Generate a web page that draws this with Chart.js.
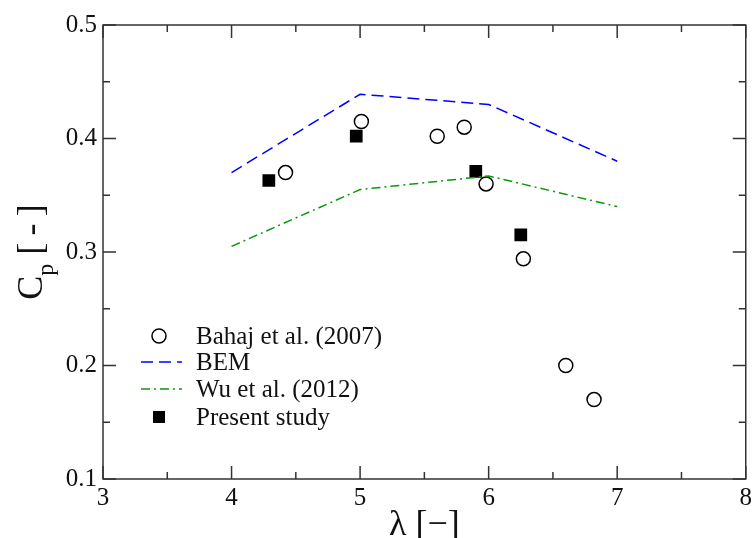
<!DOCTYPE html>
<html>
<head>
<meta charset="utf-8">
<script src="https://cdn.jsdelivr.net/npm/chart.js@4.4.1/dist/chart.umd.min.js"></script>
<style>
  body { margin: 0; background: #fff; }
  canvas { display: block; }
</style>
</head>
<body>
<canvas id="grafico-cp" width="756" height="538"></canvas>
<script>
// dados
const bahajLambda = [4.42, 5.01, 5.60, 5.81, 5.98, 6.27, 6.60, 6.82];
const bahajCp = [0.370, 0.415, 0.402, 0.410, 0.360, 0.294, 0.200, 0.170];

const bemLambda = [4, 5, 6, 7];
const bemCp = [0.370, 0.439, 0.430, 0.380];

const wuLambda = [4, 5, 6, 7];
const wuCp = [0.305, 0.355, 0.367, 0.340];

const presentLambda = [4.29, 4.97, 5.90, 6.25];
const presentCp = [0.363, 0.402, 0.371, 0.315];

const xTicks = [3, 4, 5, 6, 7, 8];
const yTicks = [0.1, 0.2, 0.3, 0.4, 0.5];

const legendLabels = ['Bahaj et al. (2007)', 'BEM', 'Wu et al. (2012)', 'Present study'];

const SERIF = '"Liberation Serif", "Times New Roman", serif';
const AXIS_COLOR = '#333';

function pares(xs, ys) {
    return xs.map((x, i) => ({ x: x, y: ys[i] }));
}

/* =========================
   MOLDURA + MARCAS PARA DENTRO
========================== */
const molduraPlugin = {
    id: 'moldura',
    beforeDatasetsDraw(chart) {
        const { ctx, chartArea: a, scales: { x, y } } = chart;
        ctx.save();
        ctx.strokeStyle = AXIS_COLOR;
        ctx.lineWidth = 1.5;
        ctx.strokeRect(a.left, a.top, a.right - a.left, a.bottom - a.top);

        ctx.beginPath();
        for (let v = xTicks[0]; v <= xTicks[xTicks.length - 1] + 1e-9; v += 0.5) {
            const px = x.getPixelForValue(v);
            const len = Math.abs(v - Math.round(v)) < 1e-6 ? 13 : 7;
            ctx.moveTo(px, a.bottom); ctx.lineTo(px, a.bottom - len);
            ctx.moveTo(px, a.top); ctx.lineTo(px, a.top + len);
        }
        for (let v = yTicks[0]; v <= yTicks[yTicks.length - 1] + 1e-9; v += 0.05) {
            const py = y.getPixelForValue(v);
            const major = Math.abs(v * 10 - Math.round(v * 10)) < 1e-6;
            const len = major ? 13 : 7;
            ctx.moveTo(a.left, py); ctx.lineTo(a.left + len, py);
            ctx.moveTo(a.right, py); ctx.lineTo(a.right - len, py);
        }
        ctx.stroke();
        ctx.restore();
    }
};

/* =========================
   TÍTULOS DOS EIXOS (com subscrito)
========================== */
const titulosPlugin = {
    id: 'titulos',
    afterDraw(chart) {
        const { ctx, chartArea: a } = chart;
        ctx.save();
        ctx.fillStyle = '#111';
        ctx.textBaseline = 'alphabetic';

        // eixo y: C_p [-]
        const big = '36px ' + SERIF;
        const small = '24px ' + SERIF;
        const resto = ' [\u2009-\u2009]';
        ctx.font = big;
        const wC = ctx.measureText('C').width;
        const wRest = ctx.measureText(resto).width;
        ctx.font = small;
        const wP = ctx.measureText('p').width;
        const total = wC + wP + wRest;

        ctx.translate(42, (a.top + a.bottom) / 2);
        ctx.rotate(-Math.PI / 2);
        let cx = -total / 2;
        ctx.font = big;
        ctx.fillText('C', cx, 0);
        cx += wC;
        ctx.font = small;
        ctx.fillText('p', cx, 11);
        cx += wP;
        ctx.font = big;
        ctx.fillText(resto, cx, 0);
        ctx.restore();

        // eixo x: λ [−]
        ctx.save();
        ctx.fillStyle = '#111';
        ctx.font = big;
        ctx.textAlign = 'center';
        ctx.textBaseline = 'alphabetic';
        ctx.fillText('\u03bb [\u2212]', (a.left + a.right) / 2, 535);
        ctx.restore();
    }
};

/* =========================
   LEGENDA DENTRO DO GRÁFICO
========================== */
const legendaPlugin = {
    id: 'legenda',
    afterDatasetsDraw(chart) {
        const { ctx, chartArea: a } = chart;
        const symX = a.left + 56;
        const textX = a.left + 93;
        const rowY = [336, 362, 389, 417];
        ctx.save();
        ctx.font = '25px ' + SERIF;
        ctx.fillStyle = '#111';
        ctx.textBaseline = 'middle';

        // círculo
        ctx.beginPath();
        ctx.arc(symX, rowY[0], 7, 0, Math.PI * 2);
        ctx.fillStyle = '#fff';
        ctx.fill();
        ctx.lineWidth = 1.5;
        ctx.strokeStyle = '#000';
        ctx.stroke();

        // linha tracejada azul
        ctx.beginPath();
        ctx.setLineDash([12, 6]);
        ctx.strokeStyle = '#0000ff';
        ctx.moveTo(symX - 18, rowY[1]);
        ctx.lineTo(symX + 23, rowY[1]);
        ctx.stroke();

        // traço-ponto verde
        ctx.beginPath();
        ctx.setLineDash([9, 4, 2, 4]);
        ctx.strokeStyle = '#0a9a0a';
        ctx.moveTo(symX - 18, rowY[2]);
        ctx.lineTo(symX + 23, rowY[2]);
        ctx.stroke();
        ctx.setLineDash([]);

        // quadrado
        ctx.fillStyle = '#000';
        ctx.fillRect(symX - 6, rowY[3] - 6, 12, 12);

        ctx.fillStyle = '#111';
        legendLabels.forEach((t, i) => ctx.fillText(t, textX, rowY[i] + 1));
        ctx.restore();
    }
};

document.addEventListener('DOMContentLoaded', () => {
    const ctx = document.getElementById('grafico-cp');

    new Chart(ctx, {
        type: 'scatter',
        data: {
            datasets: [
                {
                    label: legendLabels[1],
                    data: pares(bemLambda, bemCp),
                    showLine: true,
                    borderColor: '#0000ff',
                    borderWidth: 1.5,
                    borderDash: [12, 6],
                    pointRadius: 0,
                    fill: false
                },
                {
                    label: legendLabels[2],
                    data: pares(wuLambda, wuCp),
                    showLine: true,
                    borderColor: '#0a9a0a',
                    borderWidth: 1.5,
                    borderDash: [9, 4, 2, 4],
                    pointRadius: 0,
                    fill: false
                },
                {
                    label: legendLabels[0],
                    data: pares(bahajLambda, bahajCp),
                    pointStyle: 'circle',
                    pointRadius: 7,
                    pointBorderWidth: 1.5,
                    borderColor: '#000',
                    backgroundColor: 'rgba(255,255,255,0)'
                },
                {
                    label: legendLabels[3],
                    data: pares(presentLambda, presentCp),
                    pointStyle: 'rect',
                    pointRadius: 9,
                    pointBorderWidth: 0,
                    borderColor: '#000',
                    backgroundColor: '#000'
                }
            ]
        },
        options: {
            responsive: false,
            animation: false,
            layout: {
                padding: { left: 0, top: 25, right: 7, bottom: 0 }
            },
            plugins: {
                legend: { display: false },
                tooltip: { enabled: false }
            },
            scales: {
                x: {
                    type: 'linear',
                    min: xTicks[0],
                    max: xTicks[xTicks.length - 1],
                    afterBuildTicks: (s) => { s.ticks = xTicks.map(v => ({ value: v })); },
                    afterFit: (s) => { s.height = 59; },
                    grid: { display: false, drawTicks: false },
                    border: { display: false },
                    ticks: {
                        padding: 4,
                        color: '#111',
                        font: { family: SERIF, size: 25 },
                        maxRotation: 0,
                        callback: (v) => String(v)
                    }
                },
                y: {
                    type: 'linear',
                    min: yTicks[0],
                    max: yTicks[yTicks.length - 1],
                    afterBuildTicks: (s) => { s.ticks = yTicks.map(v => ({ value: v })); },
                    afterFit: (s) => { s.width = 103; },
                    grid: { display: false, drawTicks: false },
                    border: { display: false },
                    ticks: {
                        padding: 6,
                        color: '#111',
                        font: { family: SERIF, size: 25 },
                        callback: (v) => v.toFixed(1)
                    }
                }
            }
        },
        plugins: [molduraPlugin, legendaPlugin, titulosPlugin]
    });
});
</script>
</body>
</html>
